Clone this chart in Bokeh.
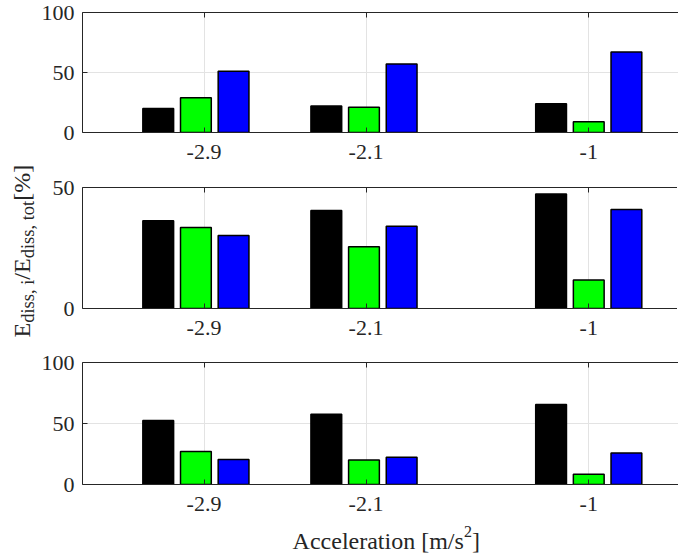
from math import pi
from bokeh.plotting import figure
from bokeh.models import Range1d, FixedTicker, LinearAxis, ColumnDataSource, Label
from bokeh.layouts import row, column
from bokeh.transform import dodge
from bokeh.embed import file_html
from bokeh.resources import INLINE

# ---------------- data ----------------
acc = [-2.94, -2.11, -1.0]                 # group positions (m/s^2)
tick_vals = [-2.9, -2.1, -1.0]
tick_labels = ["-2.9", "-2.1", "-1"]

p1_black = [20.0, 22.0, 24.0]
p1_green = [29.0, 21.0, 9.0]
p1_blue = [51.0, 57.0, 67.0]

p2_black = [36.3, 40.5, 47.3]
p2_green = [33.5, 25.5, 11.8]
p2_blue = [30.2, 34.0, 40.9]

p3_black = [52.5, 57.5, 65.5]
p3_green = [27.0, 20.0, 8.5]
p3_blue = [20.5, 22.3, 25.8]

y_ticks_100 = [0, 50, 100]
y_ticks_50 = [0, 50]

# axis titles, split into (text, kind) pieces: kind = main / sub / sup
x_label_parts = [("Acceleration [m/s", "main"), ("2", "sup"), ("]", "main")]
y_label_parts = [("E", "main"), ("diss, i", "sub"), ("/E", "main"),
                 ("diss, tot", "sub"), (" [%]", "main")]

# ---------------- style ----------------
FONT = "Liberation Serif"
AX = "#262626"
GRID = "#e3e3e3"
TICK_FS = "22px"
LAB_FS = 24
SUB_FS = 18.5
SUP_FS = 16
BAR_W = 0.152
OFF = 0.186
PX_PER_UNIT = 202.5
FRAME_W = 596
X0 = -3.5
X1 = X0 + FRAME_W / PX_PER_UNIT
LEFT_W = 38          # width of the y-label strip
BORDER_L = 43        # left border of each panel

# Liberation Serif advance widths (em)
W = {"E": .611, "d": .5, "i": .278, "s": .389, ",": .25, " ": .25, "/": .278,
     "t": .278, "o": .5, "[": .333, "%": .833, "]": .333, "A": .722, "c": .444,
     "e": .444, "l": .278, "r": .333, "a": .444, "n": .5, "m": .778, "2": .5}


def tw(s, size):
    return sum(W[c] for c in s) * size


def style_axis(ax, ticks, overrides=None):
    ax.ticker = FixedTicker(ticks=ticks)
    ax.axis_line_color = AX
    ax.axis_line_width = 1
    ax.major_tick_line_color = AX
    ax.major_tick_in = 5
    ax.major_tick_out = 0
    ax.minor_tick_in = 0
    ax.minor_tick_out = 0
    ax.major_label_text_font = FONT
    ax.major_label_text_font_size = TICK_FS
    ax.major_label_text_color = AX
    if overrides is not None:
        ax.major_label_overrides = overrides


xr = Range1d(X0, X1)


def panel(black, green, blue, ymax, yticks, frame_h, b_top, b_bottom):
    p = figure(frame_width=FRAME_W, frame_height=frame_h,
               x_range=xr, y_range=Range1d(0, ymax),
               output_backend="svg", toolbar_location=None,
               min_border_left=BORDER_L, min_border_right=0,
               min_border_top=b_top, min_border_bottom=b_bottom)
    p.outline_line_color = None
    src = ColumnDataSource(dict(x=acc, black=black, green=green, blue=blue))
    p.vbar(x=dodge("x", -OFF, range=p.x_range), top="black", width=BAR_W, source=src,
           fill_color="#000000", line_color="#000000", line_width=1.5)
    p.vbar(x=dodge("x", 0.0, range=p.x_range), top="green", width=BAR_W, source=src,
           fill_color="#00ff00", line_color="#000000", line_width=1.5)
    p.vbar(x=dodge("x", OFF, range=p.x_range), top="blue", width=BAR_W, source=src,
           fill_color="#0000ff", line_color="#000000", line_width=1.5)

    style_axis(p.xaxis[0], tick_vals, dict(zip(tick_vals, tick_labels)))
    p.xaxis[0].major_label_standoff = 12
    style_axis(p.yaxis[0], yticks)
    p.yaxis[0].major_label_standoff = 8

    top = LinearAxis()
    style_axis(top, tick_vals, {t: "" for t in tick_vals})
    top.major_label_text_font_size = "0px"
    top.major_label_standoff = 0
    p.add_layout(top, "above")

    p.xgrid.ticker = FixedTicker(ticks=tick_vals)
    p.ygrid.ticker = FixedTicker(ticks=yticks)
    for g in (p.xgrid[0], p.ygrid[0]):
        g.grid_line_color = GRID
        g.grid_line_width = 1
    return p


f1 = panel(p1_black, p1_green, p1_blue, 100, y_ticks_100, 120, 12, 40)
f2 = panel(p2_black, p2_green, p2_blue, 50, y_ticks_50, 121, 15, 40)
f3 = panel(p3_black, p3_green, p3_blue, 100, y_ticks_100, 122, 14, 36)

# ---- x label strip, sharing the panels' x range (centred on the full axes box)
XLAB_H = 38
xlab = figure(frame_width=FRAME_W, frame_height=XLAB_H, x_range=xr,
              y_range=Range1d(0, XLAB_H), output_backend="svg", toolbar_location=None,
              min_border_left=BORDER_L, min_border_right=0, min_border_top=0,
              min_border_bottom=0, x_axis_type=None, y_axis_type=None)
xlab.outline_line_color = None
xlab.xgrid.visible = False
xlab.ygrid.visible = False

sizes = {"main": LAB_FS, "sub": SUB_FS, "sup": SUP_FS}
total_px = sum(tw(t, sizes[k]) for t, k in x_label_parts)
xpos = -2.0 - total_px / 2 / PX_PER_UNIT
for t, k in x_label_parts:
    xlab.add_layout(Label(x=xpos, y=(27 if k == "sup" else 17.6), text=t,
                          text_font=FONT, text_font_size=f"{sizes[k]}px",
                          text_color=AX, text_align="left",
                          text_baseline="middle"))
    xpos += tw(t, sizes[k]) / PX_PER_UNIT

# ---- y label strip made of pieces (main text + subscripts)
TOTAL_H = 12 + 120 + 40 + 15 + 121 + 40 + 14 + 122 + 36 + XLAB_H
lab = figure(width=LEFT_W, height=TOTAL_H, x_range=Range1d(0, LEFT_W),
             y_range=Range1d(0, TOTAL_H),
             output_backend="svg", toolbar_location=None, min_border=0,
             x_axis_type=None, y_axis_type=None)
lab.outline_line_color = None
lab.xgrid.visible = False
lab.ygrid.visible = False

ypos = TOTAL_H - 337
for t, k in y_label_parts:
    xc = 21.5 if k == "main" else 27.5      # centre line of the glyphs
    lab.add_layout(Label(x=xc, y=ypos, text=t, angle=pi / 2,
                         text_font=FONT, text_font_size=f"{sizes[k]}px",
                         text_color=AX, text_align="left",
                         text_baseline="middle"))
    ypos += tw(t, sizes[k])

layout = row(lab, column(f1, f2, f3, xlab, spacing=0), spacing=0)

open("out.html", "w").write(file_html(layout, INLINE))
